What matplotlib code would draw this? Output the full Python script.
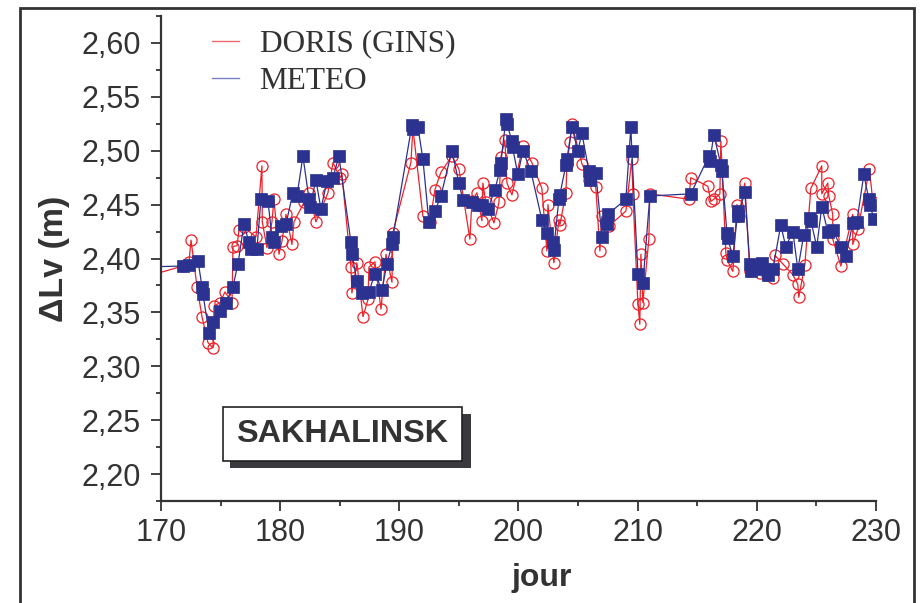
import matplotlib
matplotlib.use("Agg")
import matplotlib.pyplot as plt
from matplotlib.lines import Line2D
from matplotlib.patches import Rectangle
from matplotlib.ticker import MultipleLocator, FuncFormatter

# ---- data: tropospheric delay at Sakhalinsk, per day of year ----
meteo_day = [168.00, 171.85, 172.35, 173.10, 173.44, 173.52, 174.03, 174.36, 174.95,
             175.45, 176.04, 176.46, 176.96, 177.38, 177.55, 178.05, 178.39, 178.98,
             179.31, 179.45, 180.07, 180.49, 181.07, 181.41, 181.91, 182.42, 182.50,
             183.00, 183.42, 183.93, 184.43, 184.93, 185.94, 186.02, 186.44, 186.86,
             187.45, 187.95, 188.54, 188.96, 189.38, 189.46, 191.06, 191.14, 191.56,
             191.98, 192.48, 192.99, 193.49, 194.41, 195.00, 195.34, 196.09, 196.59,
             196.93, 197.43, 198.02, 198.44, 198.52, 198.94, 199.03, 199.45, 199.50,
             199.95, 200.37, 201.04, 201.96, 202.38, 202.88, 202.95, 203.39, 203.47,
             203.98, 204.06, 204.48, 204.98, 205.32, 205.91, 205.99, 206.49, 207.00,
             207.42, 207.50, 209.01, 209.43, 209.51, 210.02, 210.44, 211.02, 214.46,
             215.97, 216.06, 216.39, 216.98, 217.07, 217.49, 217.55, 217.99, 218.41,
             218.45, 218.99, 219.41, 219.50, 220.42, 220.50, 220.92, 221.34, 222.01,
             222.43, 223.02, 223.44, 223.94, 224.45, 224.53, 225.03, 225.45, 225.95,
             226.37, 227.05, 227.47, 228.05, 228.39, 228.98, 229.40, 229.48, 229.82]
meteo_val = [2.392, 2.393, 2.394, 2.398, 2.374, 2.367, 2.331, 2.341, 2.351,
             2.359, 2.374, 2.395, 2.432, 2.415, 2.409, 2.409, 2.455, 2.453,
             2.420, 2.415, 2.430, 2.432, 2.461, 2.458, 2.495, 2.455, 2.448,
             2.473, 2.446, 2.472, 2.475, 2.495, 2.415, 2.404, 2.379, 2.368,
             2.369, 2.386, 2.371, 2.395, 2.413, 2.420, 2.524, 2.520, 2.522,
             2.492, 2.434, 2.444, 2.458, 2.500, 2.470, 2.454, 2.452, 2.450,
             2.450, 2.446, 2.464, 2.482, 2.489, 2.529, 2.525, 2.509, 2.503,
             2.478, 2.500, 2.481, 2.436, 2.424, 2.415, 2.408, 2.455, 2.459,
             2.487, 2.492, 2.522, 2.500, 2.516, 2.481, 2.473, 2.479, 2.420,
             2.432, 2.441, 2.455, 2.522, 2.500, 2.386, 2.377, 2.458, 2.460,
             2.495, 2.490, 2.515, 2.487, 2.481, 2.424, 2.419, 2.402, 2.444,
             2.439, 2.462, 2.395, 2.388, 2.396, 2.390, 2.385, 2.390, 2.431,
             2.411, 2.425, 2.390, 2.422, 2.438, 2.435, 2.411, 2.448, 2.425,
             2.426, 2.411, 2.402, 2.433, 2.434, 2.478, 2.455, 2.450, 2.437]

doris_day = [168.00, 171.85, 172.35, 172.52, 173.02, 173.44, 173.94, 174.36, 174.45,
             174.95, 175.37, 175.96, 176.04, 176.38, 176.54, 176.96, 177.97, 178.47,
             178.50, 178.89, 179.31, 179.48, 179.90, 180.15, 180.49, 180.99, 181.16,
             182.00, 182.42, 183.00, 184.01, 184.43, 185.02, 185.18, 185.94, 186.02,
             186.44, 186.95, 187.37, 187.45, 187.95, 188.46, 188.88, 189.38, 189.46,
             190.97, 191.14, 191.98, 192.57, 192.99, 193.49, 194.41, 195.00, 195.92,
             196.09, 196.51, 196.93, 197.01, 197.26, 197.94, 198.36, 198.52, 198.86,
             199.03, 199.45, 200.37, 201.12, 201.96, 202.38, 202.47, 202.97, 203.39,
             203.47, 203.98, 204.06, 204.31, 204.48, 205.32, 205.91, 206.49, 206.83,
             207.00, 207.58, 209.01, 209.51, 209.60, 210.02, 210.18, 210.27, 210.44,
             210.94, 211.02, 214.29, 214.46, 215.89, 216.14, 216.39, 216.90, 216.98,
             217.40, 217.49, 217.99, 218.33, 218.49, 218.99, 219.41, 220.25, 220.84,
             221.34, 221.51, 222.18, 223.02, 223.44, 223.52, 224.03, 224.53, 225.45,
             225.45, 225.95, 226.04, 226.37, 226.37, 227.05, 228.05, 228.05, 228.47,
             229.45, 229.74]
doris_val = [2.381, 2.393, 2.397, 2.417, 2.374, 2.346, 2.322, 2.317, 2.356,
             2.359, 2.369, 2.359, 2.411, 2.412, 2.426, 2.429, 2.420, 2.486,
             2.434, 2.410, 2.434, 2.455, 2.404, 2.416, 2.441, 2.413, 2.434,
             2.452, 2.461, 2.434, 2.461, 2.489, 2.475, 2.478, 2.392, 2.368,
             2.396, 2.346, 2.362, 2.392, 2.397, 2.353, 2.404, 2.378, 2.424,
             2.489, 2.521, 2.439, 2.434, 2.464, 2.480, 2.495, 2.483, 2.418,
             2.453, 2.461, 2.435, 2.470, 2.452, 2.433, 2.452, 2.494, 2.510,
             2.470, 2.459, 2.504, 2.489, 2.465, 2.407, 2.450, 2.396, 2.436,
             2.431, 2.461, 2.487, 2.508, 2.525, 2.488, 2.473, 2.466, 2.407,
             2.439, 2.430, 2.444, 2.492, 2.460, 2.358, 2.339, 2.404, 2.359,
             2.418, 2.460, 2.455, 2.475, 2.467, 2.453, 2.455, 2.460, 2.509,
             2.405, 2.399, 2.388, 2.450, 2.439, 2.470, 2.388, 2.387, 2.385,
             2.382, 2.403, 2.395, 2.385, 2.376, 2.364, 2.394, 2.465, 2.486,
             2.460, 2.470, 2.458, 2.441, 2.418, 2.393, 2.441, 2.413, 2.427,
             2.483, 2.452]

x_ticks = [170, 180, 190, 200, 210, 220, 230]
y_ticks = [2.20, 2.25, 2.30, 2.35, 2.40, 2.45, 2.50, 2.55, 2.60]
series_names = ["DORIS (GINS)", "METEO"]
station = "SAKHALINSK"

RED = "#ee2028"
BLUE = "#2c3290"
INK = "#333333"

sans = ["Liberation Sans", "DejaVu Sans"]
serif = ["Liberation Serif", "DejaVu Serif"]
plt.rcParams["font.family"] = sans

fig = plt.figure(figsize=(9.22, 6.03), dpi=100)
fig.patch.set_facecolor("white")

# outer frame around the whole figure
fig.add_artist(Rectangle((20 / 922, -0.05), (914 - 20) / 922, 1.05 - 8 / 603,
                         transform=fig.transFigure, fill=False,
                         edgecolor=INK, linewidth=2.0))

ax = fig.add_axes([161 / 922, 1 - 501 / 603, 715 / 922, 485 / 603])

ax.plot(doris_day, doris_val, color=RED, linewidth=0.9, marker="o",
        markersize=8, markerfacecolor="none", markeredgecolor=RED,
        markeredgewidth=0.9, zorder=2)
ax.plot(meteo_day, meteo_val, color=BLUE, linewidth=0.9, marker="s",
        markersize=8.4, markerfacecolor=BLUE, markeredgecolor=BLUE,
        markeredgewidth=0.5, zorder=3)

ax.set_xlim(170, 230)
ax.set_ylim(2.175, 2.625)
ax.set_xticks(x_ticks)
ax.set_yticks(y_ticks)
ax.xaxis.set_minor_locator(MultipleLocator(5))
ax.yaxis.set_minor_locator(MultipleLocator(0.025))
ax.yaxis.set_major_formatter(FuncFormatter(lambda v, p: f"{v:.2f}".replace(".", ",")))

for side in ("top", "right"):
    ax.spines[side].set_visible(False)
for side in ("left", "bottom"):
    ax.spines[side].set_color(INK)
    ax.spines[side].set_linewidth(1.6)

ax.tick_params(which="major", direction="out", length=7.5, width=1.3,
               colors=INK, labelsize=22, pad=5)
ax.tick_params(which="minor", direction="out", length=3.8, width=1.3, colors=INK)
ax.tick_params(axis="y", which="major", pad=7)

ax.set_xlabel("jour", fontsize=23, fontweight="bold", color=INK)
ax.xaxis.set_label_coords(0.533, -0.128)
ax.set_ylabel("ΔLv (m)", fontsize=24.5, fontweight="bold", color=INK)
ax.yaxis.set_label_coords(-0.127, 0.5)

handles = [Line2D([], [], color="#f06a6e", linewidth=1.0),
           Line2D([], [], color="#7a7fc0", linewidth=1.0)]
leg = ax.legend(handles, series_names, loc="upper left",
                bbox_to_anchor=(0.071, 0.972), frameon=False,
                prop={"family": serif, "size": 22.5}, handlelength=0.86,
                handletextpad=0.67, labelspacing=0.28, borderpad=0,
                borderaxespad=0)
for t in leg.get_texts():
    t.set_color(INK)

# station label with drop shadow
ax.add_patch(Rectangle((0.0965, 0.068), 0.4336 - 0.0965, 0.1794 - 0.068,
                       transform=ax.transAxes, facecolor="#3a393e",
                       edgecolor="none", zorder=4, clip_on=False))
ax.add_patch(Rectangle((0.0867, 0.0825), 0.421 - 0.0867, 0.1938 - 0.0825,
                       transform=ax.transAxes, facecolor="white",
                       edgecolor="#222222", linewidth=1.2, zorder=5, clip_on=False))
ax.text(0.2535, 0.138, station, transform=ax.transAxes, ha="center", va="center",
        fontsize=23.3, fontweight="bold", color=INK, zorder=6)

fig.savefig("out.png", dpi=100, facecolor="white")
